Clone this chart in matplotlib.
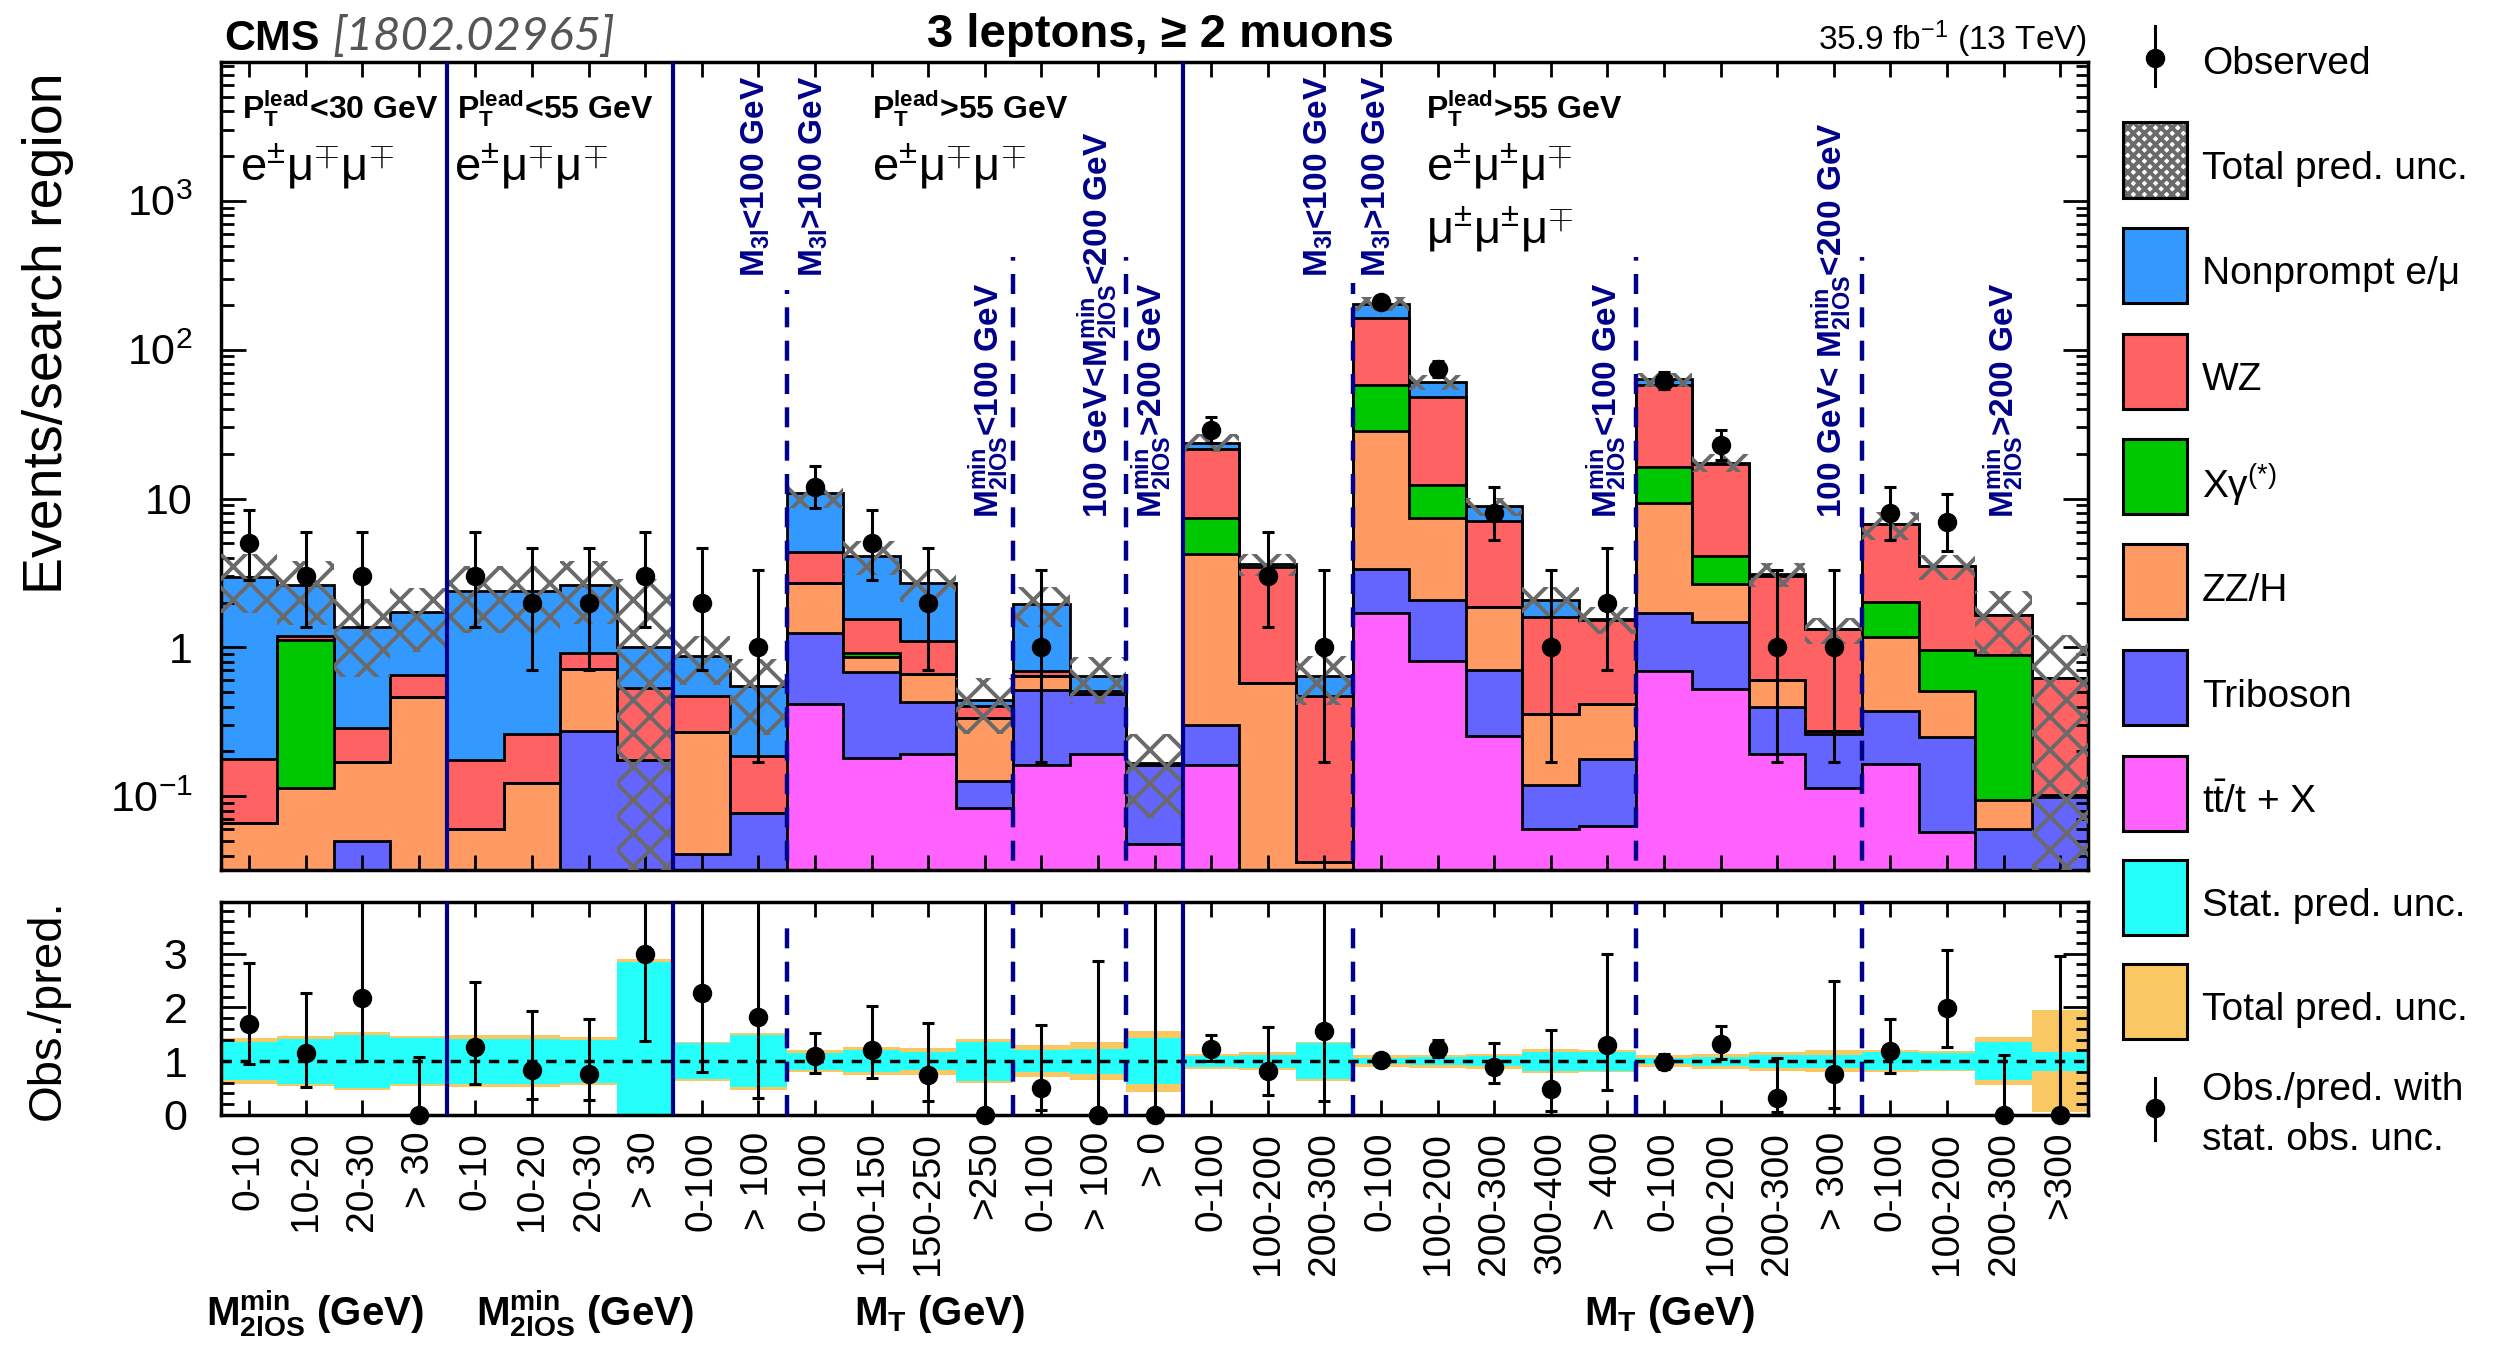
import matplotlib
matplotlib.use('Agg')
import matplotlib.pyplot as plt
import numpy as np
from matplotlib.patches import Rectangle
from matplotlib.lines import Line2D
from matplotlib.ticker import FixedLocator, FixedFormatter, LogLocator, MultipleLocator, NullFormatter
from matplotlib.transforms import blended_transform_factory

plt.rcParams['font.family'] = ['Liberation Sans', 'DejaVu Sans']
plt.rcParams['mathtext.fontset'] = 'custom'
plt.rcParams['mathtext.rm'] = 'Liberation Sans'
plt.rcParams['mathtext.it'] = 'Liberation Sans:italic'
plt.rcParams['mathtext.bf'] = 'Liberation Sans:bold'
plt.rcParams['hatch.linewidth'] = 2.8

# search-region bin labels
labels = ['0-10', '10-20', '20-30', '> 30', '0-10', '10-20', '20-30', '> 30',
          '0-100', '> 100', '0-100', '100-150', '150-250', '>250', '0-100', '> 100',
          '> 0', '0-100', '100-200', '200-300', '0-100', '100-200', '200-300',
          '300-400', '> 400', '0-100', '100-200', '200-300', '> 300', '0-100',
          '100-200', '200-300', '>300']

# predicted yields per process (stack order bottom -> top)
ttx = [0, 0, 0, 0, 0, 0, 0, 0, 0, 0, 0.42, 0.181, 0.193, 0.084, 0.162, 0.193, 0.048,
       0.162, 0, 0, 1.69, 0.807, 0.253, 0.060, 0.063, 0.692, 0.528, 0.193, 0.113,
       0.166, 0.058, 0, 0]
tribo = [0, 0, 0.05, 0, 0, 0, 0.273, 0.175, 0.041, 0.077, 0.83, 0.504, 0.234, 0.042,
         0.356, 0.292, 0.114, 0.139, 0, 0, 1.65, 1.26, 0.457, 0.059, 0.114, 1.02,
         0.962, 0.202, 0.15, 0.209, 0.191, 0.060, 0.0995]
zzh = [0.066, 0.114, 0.12, 0.467, 0.060, 0.123, 0.445, 0, 0.228, 0, 1.47, 0.177,
       0.241, 0.208, 0.122, 0, 0, 3.94, 0.579, 0.036, 25.0, 5.29, 1.16, 0.238, 0.239,
       7.65, 1.19, 0.205, 0.013, 0.795, 0.261, 0.035, 0.003]
xgam = [0, 1.006, 0, 0, 0, 0, 0, 0, 0, 0, 0, 0.05, 0, 0, 0, 0, 0, 3.12, 0, 0, 29.3,
        5.04, 0, 0, 0, 7.04, 1.45, 0, 0, 0.85, 0.455, 0.80, 0]
wz = [0.113, 0.08, 0.116, 0.19, 0.115, 0.139, 0.20, 0.362, 0.203, 0.11, 1.68, 0.64,
      0.432, 0.071, 0.05, 0.025, 0, 14.1, 2.88, 0.436, 105.0, 35.5, 5.19, 1.25, 1.11,
      41.2, 12.9, 2.44, 1.044, 4.69, 2.545, 0.756, 0.52]
nonprompt = [2.79, 1.41, 1.09, 1.06, 2.215, 2.13, 1.69, 0.463, 0.408, 0.363, 6.5,
             2.58, 1.61, 0.037, 1.28, 0.131, 0.005, 2.3, 0.18, 0.168, 41.0, 12.5,
             1.84, 0.49, 0.02, 5.4, 0.4, 0.08, 0, 0, 0, 0, 0]

# observed counts with Poisson (68%) intervals
obs = [5, 3, 3, 0, 3, 2, 2, 3, 2, 1, 12, 5, 2, 0, 1, 0, 0, 29, 3, 1, 210, 74, 8, 1, 2,
       62, 23, 1, 1, 8, 7, 0, 0]
obs_lo = [2.16, 1.63, 1.63, 0, 1.63, 1.29, 1.29, 1.63, 1.29, 0.83, 3.41, 2.16, 1.29, 0,
          0.83, 0, 0, 5.36, 1.63, 0.83, 14.5, 8.58, 2.77, 0.83, 1.29, 7.84, 4.77, 0.83,
          0.83, 2.77, 2.58, 0, 0]
obs_hi = [3.38, 2.92, 2.92, 1.84, 2.92, 2.64, 2.64, 2.92, 2.64, 2.30, 4.61, 3.38, 2.64,
          1.84, 2.30, 1.84, 1.84, 6.44, 2.92, 2.30, 15.5, 9.65, 3.95, 2.30, 2.64, 8.92,
          5.86, 2.30, 2.30, 3.95, 3.77, 1.84, 1.84]

# relative prediction uncertainties
rel_stat = [0.35, 0.42, 0.49, 0.43, 0.42, 0.42, 0.40, 1.85, 0.34, 0.48, 0.16, 0.20, 0.17,
            0.36, 0.20, 0.23, 0.43, 0.10, 0.12, 0.34, 0.06, 0.07, 0.09, 0.18, 0.18, 0.06,
            0.08, 0.12, 0.12, 0.17, 0.16, 0.35, 0.18]
rel_tot = [0.43, 0.46, 0.54, 0.46, 0.48, 0.48, 0.45, 1.90, 0.36, 0.53, 0.21, 0.26, 0.25,
           0.41, 0.30, 0.35, 0.57, 0.14, 0.17, 0.36, 0.11, 0.12, 0.14, 0.22, 0.20, 0.11,
           0.14, 0.18, 0.20, 0.21, 0.19, 0.45, 0.95]

n = len(labels)
edges = np.arange(n + 1)
centers = edges[:-1] + 0.5

navy = '#00008a'
proc_colors = ['#ff62ff', '#6464ff', '#ff9a62', '#00c800', '#ff6262', '#3399ff']
stack = [ttx, tribo, zzh, xgam, wz, nonprompt]
floor = 1e-4

fig = plt.figure(figsize=(25.07, 13.46), dpi=100)
ax = fig.add_axes([0.08803, 0.35364, 0.74503, 0.60007])
ax2 = fig.add_axes([0.08803, 0.17162, 0.74503, 0.15788])

# stacked prediction
ax.set_yscale('log')
tops = []
running = np.zeros(n)
for vals in stack:
    running = running + np.array(vals)
    tops.append(np.maximum(running, floor))
total = running
prev = np.full(n, floor)
for top, col in zip(tops, proc_colors):
    ax.stairs(top, edges, baseline=prev, fill=True, color=col, lw=0, zorder=1)
    prev = top
for top in tops:
    ax.stairs(top, edges, baseline=None, color='black', lw=2, zorder=2)

rt = np.array(rel_tot)
rs = np.array(rel_stat)
ax.stairs(total * (1 + rt), edges, baseline=np.maximum(total * (1 - rt), floor), fill=True,
          facecolor='none', edgecolor='#6a6a6a', hatch='x', lw=0, zorder=3)

# region separators
for x in [4, 8, 17]:
    ax.axvline(x, color=navy, lw=3, zorder=4)
    ax2.axvline(x, color=navy, lw=3, zorder=4)
dash_x = [10, 14, 16, 20, 25, 29]
dash_top = [250, 420, 420, 280, 420, 420]
dash_top_ratio = [3.6, 3.95, 3.95, 3.6, 3.95, 3.95]
for x, yt, yr in zip(dash_x, dash_top, dash_top_ratio):
    ax.plot([x, x], [1e-3, yt], color=navy, lw=3.2, ls=(0, (4.5, 3)), zorder=4)
    ax2.plot([x, x], [0, yr], color=navy, lw=3.2, ls=(0, (4.5, 3)), zorder=4)

obs_a = np.array(obs, dtype=float)
lo_a = np.array(obs_lo)
hi_a = np.array(obs_hi)
m = obs_a > 0
ax.errorbar(centers[m], obs_a[m], yerr=[lo_a[m], hi_a[m]], fmt='o', color='black', ms=13,
            elinewidth=2.2, capsize=4, capthick=2.2, zorder=10)

ax.set_xlim(0, n)
ax.set_ylim(0.032, 8500)
ax.yaxis.set_major_locator(FixedLocator([0.1, 1, 10, 100, 1000]))
ax.yaxis.set_major_formatter(FixedFormatter(['10$^{-1}$', '1', '10', '10$^{2}$', '10$^{3}$']))
ax.yaxis.set_minor_locator(LogLocator(base=10, subs=np.arange(2, 10)))
ax.yaxis.set_minor_formatter(NullFormatter())
ax.set_xticks(centers)
ax.tick_params(axis='x', which='both', direction='in', top=True, bottom=True,
               length=11, width=2, labelbottom=False)
ax.tick_params(axis='y', which='major', direction='in', left=True, right=True,
               length=18, width=2, labelsize=31, pad=20)
ax.tick_params(axis='y', which='minor', direction='in', left=True, right=True,
               length=9, width=2)
for s in ax.spines.values():
    s.set_linewidth(2.5)

# ratio panel
ratio = obs_a / total
ax2.stairs(1 + rt, edges, baseline=1 - rt, fill=True, color='#fac862', lw=0, zorder=1)
ax2.stairs(1 + rs, edges, baseline=1 - rs, fill=True, color='#25fffc', lw=0, zorder=2)
ax2.axhline(1, color='black', lw=2.5, ls=(0, (3, 2.5)), zorder=3)
ax2.errorbar(centers, ratio, yerr=[lo_a / total, hi_a / total], fmt='none', ecolor='black',
             elinewidth=2.2, capsize=4, capthick=2.2, zorder=10)
ax2.plot(centers, ratio, 'o', color='black', ms=13, clip_on=False, zorder=11)
ax2.set_xlim(0, n)
ax2.set_ylim(0, 3.95)
ax2.set_yticks([0, 1, 2, 3])
ax2.yaxis.set_minor_locator(MultipleLocator(0.2))
ax2.set_xticks(centers)
ax2.set_xticklabels(labels, rotation=90, fontsize=28)
ax2.tick_params(axis='x', which='both', direction='in', top=True, bottom=True,
                length=11, width=2, pad=12)
ax2.tick_params(axis='y', which='major', direction='in', left=True, right=True,
                length=18, width=2, labelsize=31, pad=24)
ax2.tick_params(axis='y', which='minor', direction='in', left=True, right=True,
                length=9, width=2)
for s in ax2.spines.values():
    s.set_linewidth(2.5)

# axis titles
fig.text(0.019, 1 - 72 / 1346, 'Events/search region', rotation=90, ha='center', va='top',
         fontsize=40)
fig.text(0.019, 0.250, 'Obs./pred.', rotation=90, ha='center', va='center', fontsize=34)
tb = blended_transform_factory(ax2.transData, fig.transFigure)
for x, t in zip([1.67, 6.44, 12.7, 25.6],
                [r'M$_{\mathbf{2lOS}}^{\mathbf{min}}$ (GeV)', r'M$_{\mathbf{2lOS}}^{\mathbf{min}}$ (GeV)',
                 r'M$_{\mathbf{T}}$ (GeV)', r'M$_{\mathbf{T}}$ (GeV)']):
    fig.text(x, 0.024, t, transform=tb, ha='center', va='center', fontsize=29,
             fontweight='bold')

# header
fig.text(224 / 2507, 1 - 50 / 1346, 'CMS', fontsize=31, fontweight='bold', va='baseline')
fig.text(332 / 2507, 1 - 50 / 1346, '[1802.02965]', fontsize=34, family='Lato',
         style='italic', weight='normal', color='#555555', va='baseline')
fig.text(0.463, 1 - 47 / 1346, '3 leptons, ≥ 2 muons', fontsize=34, fontweight='bold',
         ha='center', va='baseline')
fig.text(2087 / 2507, 1 - 50 / 1346, '35.9 fb$^{-1}$ (13 TeV)', fontsize=24, ha='right',
         va='baseline')

# region annotations
ta = blended_transform_factory(ax.transData, ax.transAxes)
for x, t in zip([0.38, 4.17, 11.5, 21.3],
                ['<30 GeV', '<55 GeV', '>55 GeV', '>55 GeV']):
    ax.text(x, 0.931, r'P$_{\mathbf{T}}^{\mathbf{lead}}$' + t, transform=ta, fontsize=23,
            fontweight='bold', va='baseline', zorder=12)
for x, t in zip([0.34, 4.13, 11.5, 21.3],
                [r'e$^{\pm}$μ$^{\mp}$μ$^{\mp}$', r'e$^{\pm}$μ$^{\mp}$μ$^{\mp}$',
                 r'e$^{\pm}$μ$^{\mp}$μ$^{\mp}$', r'e$^{\pm}$μ$^{\pm}$μ$^{\mp}$']):
    ax.text(x, 0.854, t, transform=ta, fontsize=34, va='baseline', zorder=12)
ax.text(21.3, 0.776, r'μ$^{\pm}$μ$^{\pm}$μ$^{\mp}$', transform=ta, fontsize=34,
        va='baseline', zorder=12)

m3l_lo = r'M$_{\mathbf{3l}}$<100 GeV'
m3l_hi = r'M$_{\mathbf{3l}}$>100 GeV'
m2_lo = r'M$_{\mathbf{2lOS}}^{\mathbf{min}}$<100 GeV'
m2_mid = r'100 GeV<M$_{\mathbf{2lOS}}^{\mathbf{min}}$<200 GeV'
m2_mid2 = r'100 GeV< M$_{\mathbf{2lOS}}^{\mathbf{min}}$<200 GeV'
m2_hi = r'M$_{\mathbf{2lOS}}^{\mathbf{min}}$>200 GeV'
for x, t in zip([9.45, 10.48, 19.4, 20.43], [m3l_lo, m3l_hi, m3l_lo, m3l_hi]):
    ax.text(x, 0.984, t, transform=ta, rotation=90, ha='center', va='top', fontsize=24,
            fontweight='bold', color=navy, zorder=12)
for x, t in zip([13.56, 15.5, 16.44, 24.49, 28.47, 31.5],
                [m2_lo, m2_mid, m2_hi, m2_lo, m2_mid2, m2_hi]):
    ax.text(x, 0.436, t, transform=ta, rotation=90, ha='center', va='bottom', fontsize=24,
            fontweight='bold', color=navy, zorder=12)

# legend
W, H = 2507.0, 1346.0
def fx(x):
    return x / W
def fy(y):
    return 1 - y / H

bx0, bw, bh = 2123, 64, 75
text_x = 2202
entries = [('hatch', 'Total pred. unc.', None),
           ('box', 'Nonprompt e/μ', proc_colors[5]),
           ('box', 'WZ', proc_colors[4]),
           ('box', r'Xγ$^{(*)}$', proc_colors[3]),
           ('box', 'ZZ/H', proc_colors[2]),
           ('box', 'Triboson', proc_colors[1]),
           ('box', r't$\bar{\mathrm{t}}$/t + X', proc_colors[0]),
           ('box', 'Stat. pred. unc.', '#25fffc'),
           ('box', 'Total pred. unc.', '#fac862')]
box_cy = [160, 265.5, 371, 476.5, 582, 687.6, 793, 897, 1001]
for (kind, lab, col), cy in zip(entries, box_cy):
    if kind == 'hatch':
        fig.patches.append(Rectangle((fx(bx0), fy(cy + bh / 2)), bw / W, bh / H,
                                     transform=fig.transFigure, facecolor='white',
                                     edgecolor='#6a6a6a', hatch='xxx', lw=0))
        fig.patches.append(Rectangle((fx(bx0), fy(cy + bh / 2)), bw / W, bh / H,
                                     transform=fig.transFigure, fill=False,
                                     edgecolor='black', lw=2.2))
    else:
        fig.patches.append(Rectangle((fx(bx0), fy(cy + bh / 2)), bw / W, bh / H,
                                     transform=fig.transFigure, facecolor=col,
                                     edgecolor='black', lw=2.2))
    fig.text(fx(text_x), fy(cy + 9), lab, fontsize=28, va='center')

mx = bx0 + bw / 2
fig.lines.append(Line2D([fx(mx), fx(mx)], [fy(26), fy(86)], color='black', lw=2.2,
                        transform=fig.transFigure))
fig.lines.append(Line2D([fx(mx)], [fy(58)], marker='o', ms=13, color='black',
                        transform=fig.transFigure))
fig.text(fx(text_x), fy(64), 'Observed', fontsize=28, va='center')
fig.lines.append(Line2D([fx(mx), fx(mx)], [fy(1078), fy(1140)], color='black', lw=2.2,
                        transform=fig.transFigure))
fig.lines.append(Line2D([fx(mx)], [fy(1108)], marker='o', ms=13, color='black',
                        transform=fig.transFigure))
fig.text(fx(text_x), fy(1090), 'Obs./pred. with', fontsize=28, va='center')
fig.text(fx(text_x), fy(1140), 'stat. obs. unc.', fontsize=28, va='center')

fig.savefig('out.png', dpi=100)
